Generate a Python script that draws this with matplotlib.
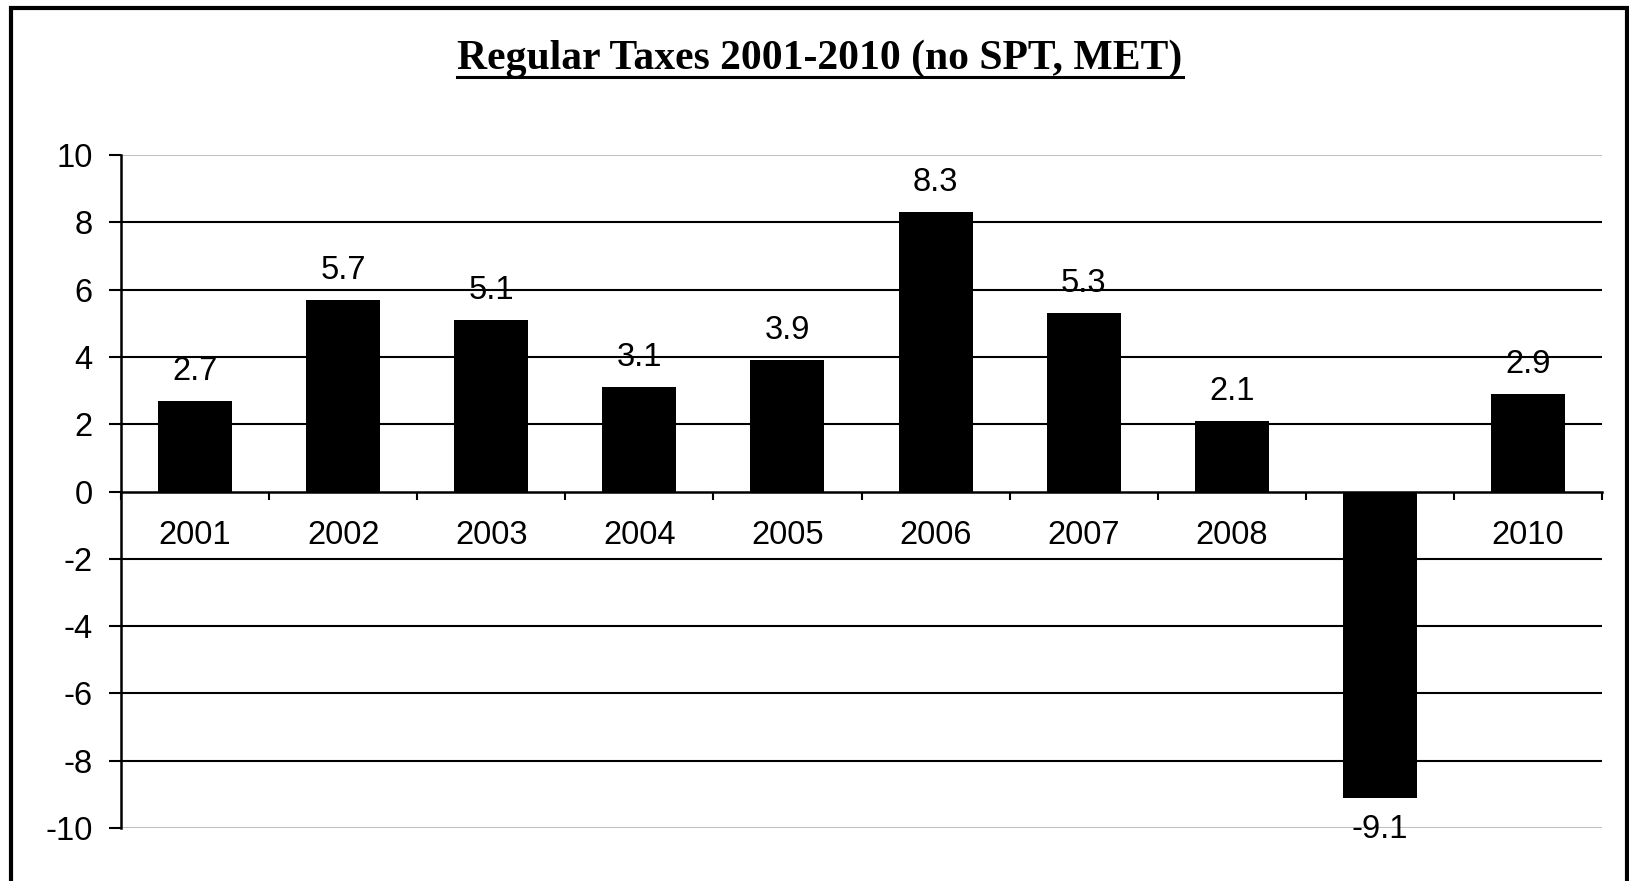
import matplotlib
matplotlib.use('Agg')
import matplotlib.pyplot as plt
from matplotlib.patches import Rectangle
from matplotlib.lines import Line2D

years = ['2001', '2002', '2003', '2004', '2005', '2006', '2007', '2008', '2009', '2010']
values = [2.7, 5.7, 5.1, 3.1, 3.9, 8.3, 5.3, 2.1, -9.1, 2.9]
yticks = [-10, -8, -6, -4, -2, 0, 2, 4, 6, 8, 10]

plt.rcParams['font.family'] = ['Liberation Sans', 'DejaVu Sans']

fig = plt.figure(figsize=(16.29, 8.81), dpi=100)
ax = fig.add_axes([121 / 1629, 1 - 828 / 881, (1602 - 121) / 1629, (828 - 155) / 881])

x = list(range(len(years)))
ax.bar(x, values, width=0.5, color='black', zorder=3)

ax.set_xlim(-0.5, len(years) - 0.5)
ax.set_ylim(-10, 10)

# grid lines
for v in yticks:
    if v in (-10, 10):
        ax.axhline(v, color='#c0c0c0', lw=1.5, zorder=1)
    elif v != 0:
        ax.axhline(v, color='black', lw=1.5, zorder=1)

ax.spines['top'].set_visible(False)
ax.spines['right'].set_visible(False)
ax.spines['left'].set_linewidth(1.8)
ax.spines['bottom'].set_position(('data', 0))
ax.spines['bottom'].set_linewidth(1.8)
ax.spines['bottom'].set_zorder(4)

ax.set_yticks(yticks)
ax.set_yticklabels([str(v) for v in yticks])
ax.tick_params(axis='y', direction='out', length=8.6, width=1.5, pad=12, labelsize=23.5)
ax.set_xticks([i - 0.5 for i in range(len(years) + 1)])
ax.set_xticklabels([])
ax.tick_params(axis='x', direction='out', length=6, width=1.5)

# category labels (hidden behind the 2009 bar like the original)
for i, yr in enumerate(years):
    ax.annotate(yr, xy=(i, 0), xytext=(0, -32), textcoords='offset points',
                ha='center', va='center', fontsize=23.5, zorder=2)

# value labels
for i, v in enumerate(values):
    if v >= 0:
        ax.annotate(f'{v:.1f}', xy=(i, v), xytext=(0, 10), textcoords='offset points',
                    ha='center', va='bottom', fontsize=23.5, zorder=5)
    else:
        ax.annotate(f'{v:.1f}', xy=(i, v), xytext=(0, -12), textcoords='offset points',
                    ha='center', va='top', fontsize=23.5, zorder=5)

# title with underline
title = fig.text(820 / 1629, 1 - 59 / 881, 'Regular Taxes 2001-2010 (no SPT, MET)',
                 ha='center', va='center', fontsize=30, fontweight='bold',
                 family=['Liberation Serif', 'DejaVu Serif'])
fig.canvas.draw()
bb = title.get_window_extent()
uy = bb.y0 + 1
fig.add_artist(Line2D([bb.x0 / 1629, bb.x1 / 1629], [uy / 881, uy / 881],
                      transform=fig.transFigure, color='black', lw=2.2))

# outer frame
fig.add_artist(Rectangle((11 / 1629, -0.05), (1627 - 11) / 1629, 1.05 - 8 / 881,
                         transform=fig.transFigure, fill=False, edgecolor='black', lw=3))

fig.savefig('out.png', dpi=100)
